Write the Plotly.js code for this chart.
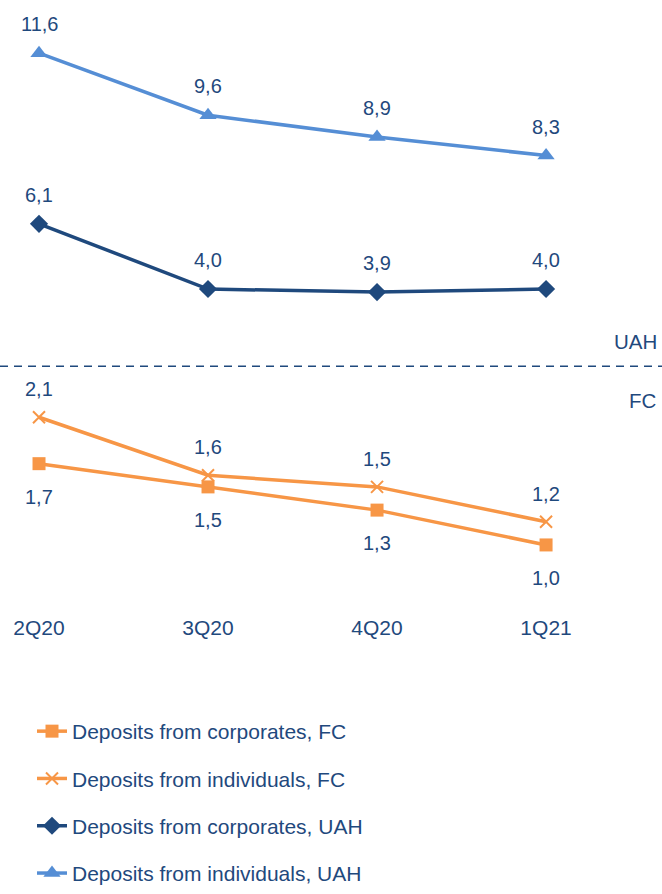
<!DOCTYPE html>
<html>
<head>
<meta charset="utf-8">
<script src="https://cdn.plot.ly/plotly-3.0.1.min.js"></script>
<style>html,body{margin:0;padding:0;background:#fff;}#chart{width:662px;height:894px;}</style>
</head>
<body>
<div id="chart"></div>
<script>
// ---- data ----
const quarters = ["2Q20", "3Q20", "4Q20", "1Q21"];
const corporatesFC = [1.7, 1.5, 1.3, 1.0];
const individualsFC = [2.1, 1.6, 1.5, 1.2];
const corporatesUAH = [6.1, 4.0, 3.9, 4.0];
const individualsUAH = [11.6, 9.6, 8.9, 8.3];
const seriesNames = [
  "Deposits from corporates, FC",
  "Deposits from individuals, FC",
  "Deposits from corporates, UAH",
  "Deposits from individuals, UAH"
];
const sectionLabels = ["UAH", "FC"];

// ---- styles ----
const TXT = "#1F497D";
const ORANGE = "#F79646";
const NAVY = "#1F497D";
const LIGHT = "#558ED5";
const FONT = "Liberation Sans, Arial, sans-serif";

const fmt = v => v.toFixed(1).replace(".", ",");

const traces = [
  {name: seriesNames[0], y: corporatesFC, yaxis: "y2", color: ORANGE,
   marker: {symbol: "square", size: 13, color: ORANGE}},
  {name: seriesNames[1], y: individualsFC, yaxis: "y2", color: ORANGE,
   marker: {symbol: "x-thin", size: 12, color: ORANGE, line: {color: ORANGE, width: 2}}},
  {name: seriesNames[2], y: corporatesUAH, yaxis: "y", color: NAVY,
   marker: {symbol: "diamond", size: 14, color: NAVY}},
  {name: seriesNames[3], y: individualsUAH, yaxis: "y", color: LIGHT,
   marker: {symbol: "triangle-up", size: 15, color: LIGHT}}
].map((t, i) => ({
  type: "scatter", mode: "lines+markers",
  x: quarters, y: t.y, yaxis: t.yaxis, name: t.name,
  legendgroup: "g" + i,
  line: {color: t.color, width: 3.5},
  marker: t.marker,
  hoverinfo: "skip"
}));

// data labels
const labelSpec = [
  {vals: corporatesFC, yref: "y2", shift: -33},
  {vals: individualsFC, yref: "y2", shift: 28},
  {vals: corporatesUAH, yref: "y", shift: 29},
  {vals: individualsUAH, yref: "y", shift: 29}
];
const annotations = [];
labelSpec.forEach(s => {
  s.vals.forEach((v, i) => {
    annotations.push({
      x: quarters[i], y: v, xref: "x", yref: s.yref,
      text: fmt(v), showarrow: false, yshift: s.shift,
      font: {family: FONT, size: 20, color: TXT}
    });
  });
});
// section labels
annotations.push({xref: "paper", yref: "paper", x: 0.995, y: 1 - 348/894, xanchor: "right", yanchor: "middle",
  text: sectionLabels[0], showarrow: false, font: {family: FONT, size: 20.5, color: TXT}});
annotations.push({xref: "paper", yref: "paper", x: 0.995, y: 1 - 408/894, xanchor: "right", yanchor: "middle",
  text: sectionLabels[1], showarrow: false, font: {family: FONT, size: 20.5, color: TXT}});

const plotBottom = 1 - 620/894;

const layout = {
  width: 662, height: 894,
  margin: {l: 0, r: 0, t: 0, b: 0, pad: 0},
  paper_bgcolor: "#fff", plot_bgcolor: "#fff",
  font: {family: FONT, size: 20, color: TXT},
  showlegend: true,
  legend: {
    x: 32/662, xanchor: "left", y: 1 - 724/894, yanchor: "top",
    traceorder: "grouped", tracegroupgap: 17,
    font: {family: FONT, size: 21, color: TXT},
    bgcolor: "rgba(0,0,0,0)"
  },
  xaxis: {
    type: "category", range: [-0.2308, 3.686], domain: [0, 1],
    showgrid: false, zeroline: false, showline: false, ticks: "",
    tickfont: {family: FONT, size: 21, color: TXT},
    ticklabelstandoff: 4, fixedrange: true
  },
  yaxis: {
    domain: [plotBottom, 1], range: [-6.308, 13.313],
    visible: false, showgrid: false, zeroline: false, fixedrange: true
  },
  yaxis2: {
    domain: [plotBottom, 1], range: [0.449, 5.694], overlaying: "y",
    visible: false, showgrid: false, zeroline: false, fixedrange: true
  },
  shapes: [{
    type: "line", xref: "paper", yref: "paper", x0: 0, x1: 1,
    y0: 1 - 373/894, y1: 1 - 373/894,
    line: {color: NAVY, width: 1.5, dash: "8px,6px"}
  }],
  annotations: annotations
};

Plotly.newPlot("chart", traces, layout, {displayModeBar: false, staticPlot: true});
</script>
</body>
</html>
